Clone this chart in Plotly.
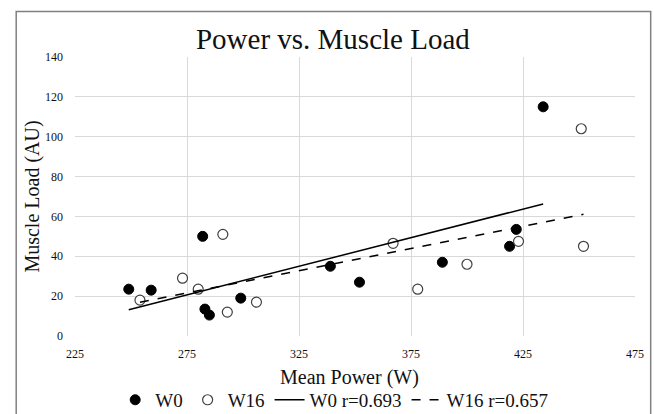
import numpy as np
import plotly.graph_objects as go

# Data
w0_power = [249, 259, 282, 283, 285, 299, 339, 352, 389, 419, 422, 434]
w0_load = [23.5, 23, 50, 13.5, 10.5, 19, 35, 27, 37, 45, 53.5, 115]
w16_power = [254, 273, 280, 291, 293, 306, 367, 378, 400, 423, 451, 452]
w16_load = [18, 29, 23.5, 51, 12, 17, 46.5, 23.5, 36, 47.5, 104, 45]

x_ticks = [225, 275, 325, 375, 425, 475]
y_ticks = [0, 20, 40, 60, 80, 100, 120, 140]

FONT = "Liberation Serif, Times New Roman, serif"


def trend(x, y):
    a, b = np.polyfit(x, y, 1)
    xs = np.array([min(x), max(x)])
    return xs, a * xs + b


t0x, t0y = trend(w0_power, w0_load)
t16x, t16y = trend(w16_power, w16_load)

fig = go.Figure()
fig.add_trace(go.Scatter(x=w0_power, y=w0_load, mode="markers", name="W0",
                         marker=dict(size=10, color="black", line=dict(color="black", width=1))))
fig.add_trace(go.Scatter(x=w16_power, y=w16_load, mode="markers", name="W16",
                         marker=dict(size=10, color="white", line=dict(color="#404040", width=1.2))))
fig.add_trace(go.Scatter(x=t0x, y=t0y, mode="lines", name="W0 r=0.693",
                         line=dict(color="black", width=1.5)))
fig.add_trace(go.Scatter(x=t16x, y=t16y, mode="lines", name="W16 r=0.657",
                         line=dict(color="black", width=1.5, dash="dash")))

grid = "#d9d9d9"
tickfont = dict(family=FONT, size=12, color="#111")
fig.update_layout(
    width=654, height=414,
    margin=dict(l=75, r=19, t=57, b=78),
    paper_bgcolor="white", plot_bgcolor="white",
    font=dict(family=FONT, color="#111"),
    title=dict(text="Power vs. Muscle Load", x=0.509, xanchor="center",
               y=0.905, yanchor="middle", font=dict(family=FONT, size=29, color="#111")),
    xaxis=dict(range=[225, 475], tickvals=x_ticks, showgrid=True, gridcolor=grid,
               gridwidth=1, zeroline=False, showline=False, ticks="", automargin=False,
               ticklabelstandoff=9, tickfont=tickfont),
    yaxis=dict(range=[0, 140], tickvals=y_ticks, showgrid=True, gridcolor=grid,
               gridwidth=1, zeroline=False, showline=False, ticks="", automargin=False,
               ticklabelstandoff=11, tickfont=tickfont,
               title=dict(text="Muscle Load (AU)", font=dict(family=FONT, size=20, color="#111"),
                          standoff=0)),
    legend=dict(orientation="h", xref="container", yref="container",
                x=0.511, xanchor="center", y=0.034, yanchor="middle",
                font=dict(family=FONT, size=19, color="#111"), itemwidth=30,
                tracegroupgap=0, bgcolor="rgba(0,0,0,0)"),
    showlegend=True,
)

# x-axis title
fig.add_annotation(text="Mean Power (W)", xref="paper", yref="paper", x=0.49, y=-0.147,
                   xanchor="center", yanchor="middle", showarrow=False,
                   font=dict(family=FONT, size=20, color="#111"))

# chart frame
fig.add_shape(type="rect", xref="paper", yref="paper",
              x0=-0.105, x1=1.028, y0=-0.35, y1=1.163,
              line=dict(color="#808080", width=1.5), fillcolor="rgba(0,0,0,0)", layer="below")

fig.write_html("out.html", config={"displayModeBar": False},
               post_script="document.body.style.margin='0';")
